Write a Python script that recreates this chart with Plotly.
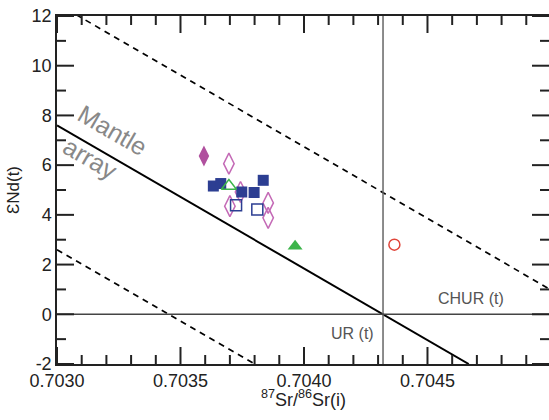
import plotly.graph_objects as go

# ---- data ----
blue_filled_x = [0.703633, 0.703663, 0.703748, 0.703798, 0.703835]
blue_filled_y = [5.16, 5.26, 4.92, 4.90, 5.39]
blue_open_x = [0.703725, 0.703811]
blue_open_y = [4.39, 4.22]
purple_filled_x = [0.703595]
purple_filled_y = [6.37]
purple_open_x = [0.703696, 0.703743, 0.703700, 0.703855, 0.703855]
purple_open_y = [6.06, 4.92, 4.35, 4.48, 3.88]
green_open_x = [0.703696]
green_open_y = [5.16]
green_filled_x = [0.703964]
green_filled_y = [2.74]
red_open_x = [0.704366]
red_open_y = [2.80]

# reference lines (data units)
mantle_x = [0.7030, 0.704667]
mantle_y = [7.6, -2.0]
upper_x = [0.7030, 0.7050]
upper_y = [12.5, 0.98]
lower_x = [0.7030, 0.7038]
lower_y = [2.6, -2.0]
ur_x = 0.70432
chur_y = 0.0

# axis ticks
x_range = [0.7030, 0.704992]
y_range = [-2, 12]
x_major = [0.7030, 0.7035, 0.7040, 0.7045]
x_minor = [0.7031, 0.7032, 0.7033, 0.7034, 0.7036, 0.7037, 0.7038, 0.7039,
           0.7041, 0.7042, 0.7043, 0.7044, 0.7046, 0.7047, 0.7048, 0.7049]
y_major = [-2, 0, 2, 4, 6, 8, 10, 12]
y_minor = [-1, 1, 3, 5, 7, 9, 11]

BLUE = "#2c3e92"
PURPLE = "#b0509e"
PURPLE_OPEN = "#c46ab6"
GREEN = "#3cb44a"
RED = "#e0453a"
FONT = "Liberation Sans, Arial, sans-serif"
AX = "#222222"

W, H = 549, 420
M = dict(l=57, r=0, t=16, b=56)
plot_w = W - M["l"] - M["r"]
plot_h = H - M["t"] - M["b"]
MAJ_LEN, MIN_LEN = 17, 9
px_y = (y_range[1] - y_range[0]) / plot_h
px_x = (x_range[1] - x_range[0]) / plot_w

fig = go.Figure()

# lines
fig.add_trace(go.Scatter(x=upper_x, y=upper_y, mode="lines",
                         line=dict(color="black", width=1.7, dash="6px,5px"), hoverinfo="skip"))
fig.add_trace(go.Scatter(x=lower_x, y=lower_y, mode="lines",
                         line=dict(color="black", width=1.7, dash="6px,5px"), hoverinfo="skip"))
fig.add_trace(go.Scatter(x=mantle_x, y=mantle_y, mode="lines",
                         line=dict(color="black", width=2), hoverinfo="skip"))
fig.add_trace(go.Scatter(x=[ur_x, ur_x], y=y_range, mode="lines",
                         line=dict(color="#666666", width=1.5), hoverinfo="skip"))
fig.add_trace(go.Scatter(x=x_range, y=[chur_y, chur_y], mode="lines",
                         line=dict(color="#444444", width=1.5), hoverinfo="skip"))

# inside tick marks: one short segment trace per tick
def seg(xs, ys):
    fig.add_trace(go.Scatter(x=xs, y=ys, mode="lines", line=dict(color=AX, width=2),
                             hoverinfo="skip", cliponaxis=False))

for vals, ln in [(x_major, MAJ_LEN), (x_minor, MIN_LEN)]:
    for v in vals:
        seg([v, v], [y_range[0], y_range[0] + ln * px_y])
        seg([v, v], [y_range[1], y_range[1] - ln * px_y])
for vals, ln in [(y_major, MAJ_LEN), (y_minor, MIN_LEN)]:
    for v in vals:
        seg([x_range[0], x_range[0] + ln * px_x], [v, v])
        seg([x_range[1], x_range[1] - ln * px_x], [v, v])

# markers
fig.add_trace(go.Scatter(x=purple_open_x, y=purple_open_y, mode="markers",
                         marker=dict(symbol="diamond-tall-open", size=15, color=PURPLE_OPEN,
                                     line=dict(width=1.5, color=PURPLE_OPEN))))
fig.add_trace(go.Scatter(x=purple_filled_x, y=purple_filled_y, mode="markers",
                         marker=dict(symbol="diamond-tall", size=15, color=PURPLE)))
fig.add_trace(go.Scatter(x=blue_filled_x, y=blue_filled_y, mode="markers",
                         marker=dict(symbol="square", size=11, color=BLUE)))
fig.add_trace(go.Scatter(x=blue_open_x, y=blue_open_y, mode="markers",
                         marker=dict(symbol="square-open", size=11, color=BLUE,
                                     line=dict(width=1.5, color=BLUE))))
fig.add_trace(go.Scatter(x=green_open_x, y=green_open_y, mode="markers",
                         marker=dict(symbol="triangle-up-open", size=13, color=GREEN,
                                     line=dict(width=1.5, color=GREEN))))
fig.add_trace(go.Scatter(x=green_filled_x, y=green_filled_y, mode="markers",
                         marker=dict(symbol="triangle-up", size=13, color=GREEN)))
fig.add_trace(go.Scatter(x=red_open_x, y=red_open_y, mode="markers",
                         marker=dict(symbol="circle-open", size=11, color=RED,
                                     line=dict(width=1.5, color=RED))))

fig.update_layout(
    width=W, height=H, margin=M,
    plot_bgcolor="white", paper_bgcolor="white",
    showlegend=False,
    font=dict(family=FONT, size=18, color="#222222"),
    xaxis=dict(range=x_range, tickmode="array", tickvals=x_major,
               ticktext=[f"{v:.4f}" for v in x_major],
               showline=True, linecolor=AX, linewidth=1.5, mirror=True,
               ticks="", showgrid=False, zeroline=False),
    yaxis=dict(range=y_range, tickmode="array", tickvals=y_major,
               ticktext=[str(v) for v in y_major],
               showline=True, linecolor=AX, linewidth=1.5,
               ticks="", showgrid=False, zeroline=False,
               title=dict(text="ƐNd(t)", standoff=8, font=dict(size=17))),
)

fig.add_annotation(x=0.5, y=-0.098, xref="paper", yref="paper", yanchor="middle",
                   text="<sup>87</sup>Sr/<sup>86</sup>Sr(i)", showarrow=False,
                   font=dict(size=18, color="#222222", family=FONT))
fig.add_annotation(x=0.703223, y=7.40, text="Mantle", showarrow=False, textangle=30,
                   font=dict(size=25, color="#888888", family=FONT))
fig.add_annotation(x=0.703134, y=6.30, text="array", showarrow=False, textangle=30,
                   font=dict(size=25, color="#888888", family=FONT))
fig.add_annotation(x=0.704676, y=0.64, text="CHUR (t)", showarrow=False,
                   font=dict(size=16, color="#555555", family=FONT))
fig.add_annotation(x=0.704198, y=-0.76, text="UR (t)", showarrow=False,
                   font=dict(size=16, color="#555555", family=FONT))

fig.write_html("out.html")
